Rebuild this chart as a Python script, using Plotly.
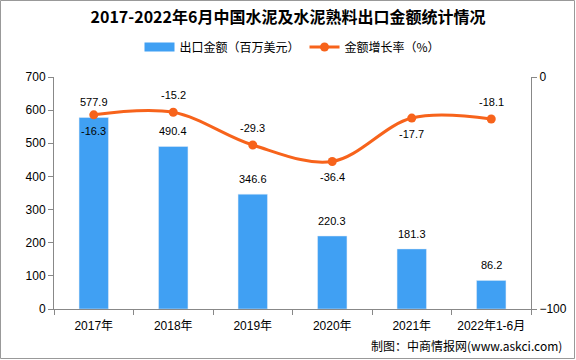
import plotly.graph_objects as go

categories = ["2017年", "2018年", "2019年", "2020年", "2021年", "2022年1-6月"]
export_value = [577.9, 490.4, 346.6, 220.3, 181.3, 86.2]
growth_rate = [-16.3, -15.2, -29.3, -36.4, -17.7, -18.1]
growth_label_above = [False, True, True, False, False, True]

font_cn = "Liberation Sans, Noto Sans CJK SC, sans-serif"
bar_color = "#40A0F3"
line_color = "#F7631B"

fig = go.Figure()
fig.add_trace(go.Bar(
    x=categories, y=export_value, name="出口金额（百万美元）", showlegend=False,
    marker=dict(color=bar_color), width=0.37,
))
# legend-only swatch for the bars (wide rectangle like the reference)
fig.add_trace(go.Scatter(
    x=[None], y=[None], name="出口金额（百万美元）", mode="lines",
    line=dict(color=bar_color, width=9), showlegend=True,
))
fig.add_trace(go.Scatter(
    x=categories, y=growth_rate, name="金额增长率（%）", yaxis="y2",
    mode="lines+markers", line=dict(color=line_color, width=3, shape="spline", smoothing=1.0),
    marker=dict(color=line_color, size=9), cliponaxis=False,
))

W, H = 576, 360
l, r, t, b = 54, 45, 77, 51
pw, ph = W - l - r, H - t - b

annotations = []
for c, v in zip(categories, export_value):
    annotations.append(dict(x=c, y=v, xref="x", yref="y", text=f"{v:.1f}", showarrow=False,
                            yanchor="middle", yshift=15, font=dict(size=11, color="#000")))
for c, v, above in zip(categories, growth_rate, growth_label_above):
    annotations.append(dict(x=c, y=v, xref="x", yref="y2", text=f"{v:.1f}", showarrow=False,
                            yanchor="middle", yshift=17 if above else -16,
                            font=dict(size=11, color="#000")))
annotations.append(dict(text="制图：中商情报网(www.askci.com)", xref="paper", yref="paper",
                        x=1 + (564 - 531) / pw, xanchor="right", y=-(345 - 309) / ph, yanchor="middle",
                        showarrow=False, font=dict(size=12, family="Noto Sans CJK SC")))

fig.update_layout(
    width=W, height=H, margin=dict(l=l, r=r, t=t, b=b),
    paper_bgcolor="white", plot_bgcolor="white",
    font=dict(family=font_cn, size=12, color="#000"),
    title=dict(text="<b>2017-2022年6月中国水泥及水泥熟料出口金额统计情况</b>",
               x=0.5, xanchor="center", y=1 - 17 / H, yanchor="middle",
               font=dict(size=16, family="Noto Sans CJK SC, serif", color="#000")),
    legend=dict(orientation="h", x=0.5, xanchor="center", y=1.0 + (77 - 47) / ph, yanchor="middle",
                font=dict(size=12, family="Noto Sans CJK SC"), bgcolor="rgba(0,0,0,0)",
                traceorder="normal"),
    showlegend=True,
    xaxis=dict(type="category", showline=True, linecolor="#888", linewidth=1,
               ticks="outside", tickson="boundaries", ticklen=5, tickcolor="#888",
               tickfont=dict(size=12, family=font_cn), showgrid=False, automargin=False,
               ticklabelstandoff=6),
    yaxis=dict(range=[0, 700], dtick=100, showline=True, linecolor="#888", linewidth=1,
               ticks="outside", ticklen=5, tickcolor="#888", showgrid=False, zeroline=False,
               tickfont=dict(size=12, family=font_cn), automargin=False),
    yaxis2=dict(range=[-100, 0], tickvals=[0, -100], overlaying="y", side="right",
                showline=True, linecolor="#888", linewidth=1, ticks="outside", ticklen=5,
                tickcolor="#888", showgrid=False, zeroline=False,
                tickfont=dict(size=12, family=font_cn), automargin=False),
    shapes=[dict(type="rect", xref="paper", yref="paper",
                 x0=-(l - 0.5) / pw, x1=1 + (r - 1.5) / pw,
                 y0=-(b - 1.5) / ph, y1=1 + (t - 0.5) / ph,
                 line=dict(color="#999", width=1))],
    annotations=annotations,
)

fig.write_html("out.html", config={"displayModeBar": False},
               post_script="document.body.style.margin='0';document.body.style.overflow='hidden';")
